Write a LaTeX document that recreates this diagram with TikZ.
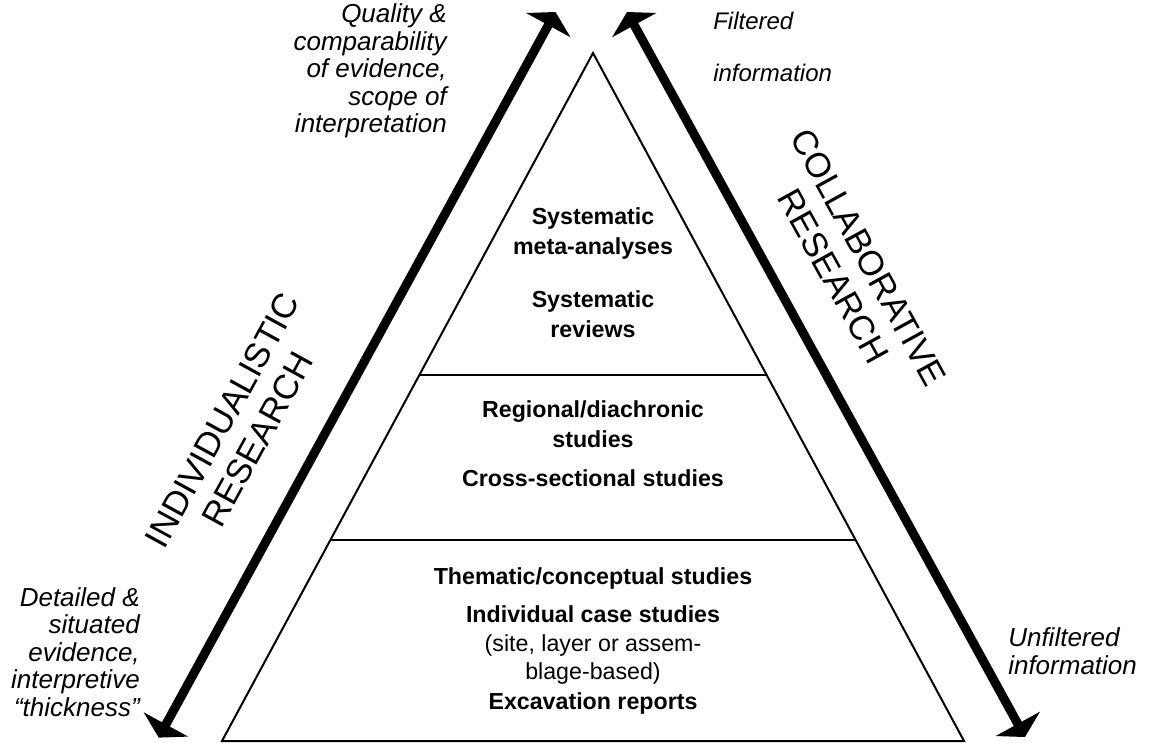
\documentclass[tikz,border=0pt]{standalone}
\usepackage{fontspec}
\setmainfont{Liberation Sans}
\usetikzlibrary{arrows.meta,calc}
\begin{document}
\begin{tikzpicture}[x=0.75pt,y=-0.75pt,
  tri/.style={line width=1.5pt,line join=miter},
  bigarrow/.style={line width=6.75pt,
    {Triangle[length=11.25pt,width=37.5pt]}-{Triangle[length=11.25pt,width=37.5pt]}},
  lvl/.style={font=\bfseries\fontsize{17.4}{22.5}\selectfont,align=center,inner sep=0pt},
  lvlreg/.style={font=\fontsize{17.4}{21}\selectfont,align=center,inner sep=0pt},
  side/.style={font=\itshape\fontsize{19.5}{20.6}\selectfont,inner sep=0pt},
  big/.style={font=\fontsize{26}{30}\selectfont,align=center,inner sep=0pt}]
\useasboundingbox (0,0) rectangle (1155,742);
% pyramid
\coordinate (apex) at (593,53);
\coordinate (bl) at (222,741);
\coordinate (br) at (964,741);
\draw[tri] (apex) -- (bl) -- (br) -- cycle;
\coordinate (d1l) at ($(apex)!0.468!(bl)$);
\coordinate (d1r) at ($(apex)!0.468!(br)$);
\coordinate (d2l) at ($(apex)!0.708!(bl)$);
\coordinate (d2r) at ($(apex)!0.708!(br)$);
\draw[tri] (d1l) -- (d1r);
\draw[tri] (d2l) -- (d2r);
% arrows
\coordinate (la) at (158.7,737.6);
\coordinate (lb) at (555.5,12);
\coordinate (ra) at (627,12);
\coordinate (rb) at (1025,737);
\draw[bigarrow] (la) -- (lb);
\draw[bigarrow] (ra) -- (rb);
% level texts
\node[lvl] (sysmeta) at (593,233) {Systematic\\meta-analyses};
\node[lvl] (sysrev) at (593,314) {Systematic\\reviews};
\node[lvl] (regional) at (593,424) {Regional/diachronic\\studies};
\node[lvl] (cross) at (593,478) {Cross-sectional studies};
\node[lvl] (thematic) at (593,578) {Thematic/conceptual studies};
\node[lvl] (indiv) at (593,614) {Individual case studies};
\node[lvlreg] (site) at (593,659) {(site, layer or assem-\\blage-based)};
\node[lvl] (excav) at (593,703) {Excavation reports};
% side labels
\node[side,anchor=east,align=right] (quality) at (447,71) {Quality \&\\comparability\\of evidence,\\scope of\\interpretation};
\node[side,anchor=west,align=left,font=\itshape\fontsize{18}{39}\selectfont] (filtered) at (713,47) {Filtered\\information};
\node[side,anchor=east,align=right] (detailed) at (140,652) {Detailed \&\\situated\\evidence,\\interpretive\\“thickness”};
\node[side,anchor=west,align=left] (unfiltered) at (1008,651) {Unfiltered\\information};
% rotated labels
\node[big,rotate=61.3] (indres) at (240,430) {INDIVIDUALISTIC\\RESEARCH};
\node[big,rotate=-61.2] (colres) at (851,267) {COLLABORATIVE\\RESEARCH};
\end{tikzpicture}
\end{document}
